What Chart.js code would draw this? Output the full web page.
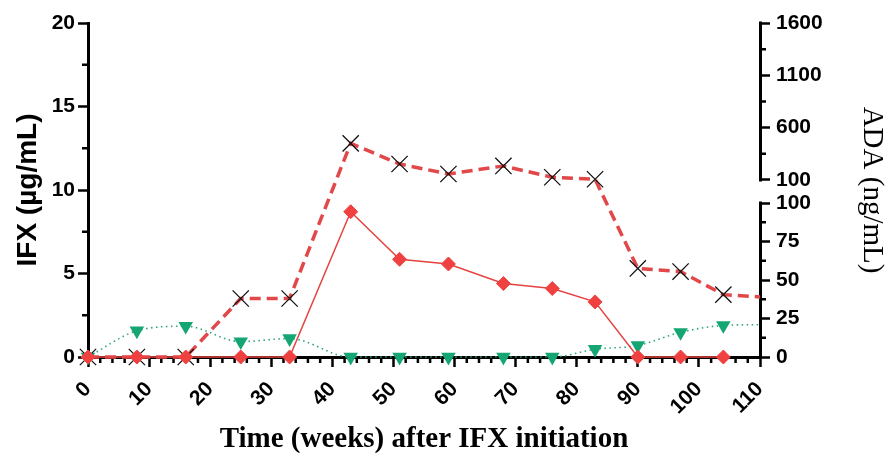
<!DOCTYPE html>
<html>
<head>
<meta charset="utf-8">
<script src="https://cdn.jsdelivr.net/npm/chart.js@4.4.0/dist/chart.umd.min.js"></script>
<style>
  html, body { margin: 0; padding: 0; background: #fff; }
  #wrap { width: 890px; height: 458px; position: relative; }
</style>
</head>
<body>
<div id="wrap"><canvas id="chart"></canvas></div>
<script>
// Weeks after IFX initiation (the last one is where the trailing lines stop)
const weeks = [0, 8, 16, 25, 33, 43, 51, 59, 68, 76, 83, 90, 97, 104, 110];
// IFX, ug/mL (left axis)
const ifxLevels = [0, 0, 0, 0, 0, 8.7, 5.85, 5.57, 4.4, 4.1, 3.3, 0, 0, 0, null];
// ADA, ng/mL (right, broken axis)
const adaLevels = [0, 0, 0, 38, 38, 450, 253, 157, 234, 126, 107, 57.5, 55.5, 40.5, 39];
// green dotted series, ng/mL (right, broken axis)
const greenSeries = [0, 17, 20, 10, 12, 0, 0, 0, 0, 0, 5, 7.5, 16, 20.5, 21];

// tick labels
const leftTicks = [0, 5, 10, 15, 20];
const rightLowerTicks = [0, 25, 50, 75, 100];
const rightUpperTicks = [100, 600, 1100, 1600];
const xTickStep = 10;

// where the right axis breaks (fractions of the plot height)
const BREAK_AT = 100;
const LOWER_TOP = 0.461;
const UPPER_BOTTOM = 0.530;

Chart.defaults.font.family = "'Liberation Sans', Arial, sans-serif";
Chart.defaults.color = '#000';

class BrokenScale extends Chart.LinearScale {
  buildTicks() {
    this.start = this.min;
    this.end = this.max;
    return rightLowerTicks.map(v => ({ value: v }))
      .concat(rightUpperTicks.map(v => ({ value: v, upper: true })));
  }
  toDecimal(v, upper) {
    if (v <= BREAK_AT && !upper) return v / BREAK_AT * LOWER_TOP;
    return UPPER_BOTTOM + (v - BREAK_AT) / (this.max - BREAK_AT) * (1 - UPPER_BOTTOM);
  }
  getPixelForValue(v) {
    return v == null ? NaN : this.getPixelForDecimal(this.toDecimal(v, false));
  }
  getPixelForTick(i) {
    const t = this.ticks[i];
    return t ? this.getPixelForDecimal(this.toDecimal(t.value, t.upper)) : null;
  }
  drawBorder() {
    const ctx = this.ctx;
    const x = this._borderValue;
    ctx.save();
    ctx.lineWidth = 3;
    ctx.strokeStyle = '#000';
    ctx.beginPath();
    ctx.moveTo(x, this.getPixelForDecimal(0) + 1.5);
    ctx.lineTo(x, this.getPixelForDecimal(LOWER_TOP) - 1.5);
    ctx.moveTo(x, this.getPixelForDecimal(UPPER_BOTTOM) + 1.5);
    ctx.lineTo(x, this.getPixelForDecimal(1) - 1.5);
    ctx.stroke();
    ctx.restore();
  }
}
BrokenScale.id = 'broken';
BrokenScale.defaults = Chart.LinearScale.defaults;
Chart.register(BrokenScale);

// short minor ticks between the labelled ones
const minorTicks = {
  id: 'minorTicks',
  beforeDatasetsDraw(chart) {
    const { ctx, scales: { x, y, y2 } } = chart;
    const len = 6;
    ctx.save();
    ctx.strokeStyle = '#000';
    ctx.lineWidth = 2.5;
    ctx.beginPath();
    for (let v = 2; v < 110; v += 2) {
      if (v % xTickStep === 0) continue;
      const px = x.getPixelForValue(v);
      ctx.moveTo(px, x.top);
      ctx.lineTo(px, x.top + len);
    }
    for (let v = 2.5; v < 20; v += 5) {
      const py = y.getPixelForValue(v);
      ctx.moveTo(y.right, py);
      ctx.lineTo(y.right - len, py);
    }
    [12.5, 37.5, 62.5, 87.5, 350, 850, 1350].forEach(v => {
      const py = y2.getPixelForValue(v);
      ctx.moveTo(y2.left, py);
      ctx.lineTo(y2.left + len, py);
    });
    ctx.stroke();
    ctx.restore();
  }
};

const pts = arr => weeks.map((w, i) => ({ x: w, y: arr[i] }));
const lastHidden = r => ctx => (ctx.dataIndex === weeks.length - 1 ? 0 : r);

const tickFont = { size: 21, weight: 'bold' };
const axisGrid = { drawOnChartArea: false, tickLength: 10, tickWidth: 2.5, tickColor: '#000', lineWidth: 3 };

new Chart(document.getElementById('chart'), {
  type: 'line',
  data: {
    datasets: [
      {
        label: 'IFX',
        data: pts(ifxLevels),
        yAxisID: 'y',
        borderColor: '#e4433f',
        borderWidth: 1.5,
        pointStyle: 'rectRot',
        pointRadius: 7,
        pointBackgroundColor: '#ef4140',
        pointBorderColor: '#ef4140',
        pointBorderWidth: 1,
        order: 0,
        clip: false
      },
      {
        label: 'ADA',
        data: pts(adaLevels),
        yAxisID: 'y2',
        borderColor: '#e2474a',
        borderWidth: 3.5,
        borderDash: [11, 6],
        pointStyle: 'crossRot',
        pointRadius: lastHidden(11.5),
        pointBorderColor: '#111',
        pointBackgroundColor: '#111',
        pointBorderWidth: 1.3,
        order: 1,
        clip: false
      },
      {
        label: 'green',
        data: pts(greenSeries),
        yAxisID: 'y2',
        borderColor: '#2fa37c',
        borderWidth: 1.6,
        borderDash: [1.5, 3.5],
        cubicInterpolationMode: 'monotone',
        pointStyle: 'triangle',
        pointRotation: 180,
        pointRadius: lastHidden(6.8),
        pointBackgroundColor: '#16a673',
        pointBorderColor: '#16a673',
        order: 2,
        clip: false
      }
    ]
  },
  options: {
    responsive: true,
    maintainAspectRatio: false,
    animation: false,
    events: [],
    layout: { padding: { top: 23, left: 0, right: 0, bottom: 0 } },
    plugins: { legend: { display: false }, tooltip: { enabled: false } },
    scales: {
      x: {
        type: 'linear',
        position: 'bottom',
        min: 0,
        max: 110,
        ticks: { stepSize: xTickStep, minRotation: 45, maxRotation: 45, font: tickFont, padding: 10, autoSkip: false },
        grid: axisGrid,
        border: { color: '#000', width: 3 },
        title: {
          display: true,
          text: 'Time (weeks) after IFX initiation',
          font: { family: "'Liberation Serif', 'Times New Roman', serif", size: 29, weight: 'bold' },
          padding: { top: 0, bottom: 1 }
        },
        afterFit: s => { s.height = 101; }
      },
      y: {
        type: 'linear',
        position: 'left',
        min: 0,
        max: 20,
        afterBuildTicks: s => { s.ticks = leftTicks.map(v => ({ value: v })); },
        ticks: { font: tickFont, padding: 3, autoSkip: false },
        grid: axisGrid,
        border: { color: '#000', width: 3 },
        title: {
          display: true,
          text: 'IFX (µg/mL)',
          font: { size: 28, weight: 'bold' },
          padding: { top: 11, bottom: 0 }
        },
        afterFit: s => { s.width = 88; }
      },
      y2: {
        type: 'broken',
        position: 'right',
        min: 0,
        max: 1600,
        ticks: { font: tickFont, padding: 6, autoSkip: false, callback: v => String(v) },
        grid: axisGrid,
        border: { color: '#000', width: 3 },
        title: {
          display: true,
          text: 'ADA (ng/mL)',
          font: { family: "'Liberation Serif', 'Times New Roman', serif", size: 29 },
          padding: { top: 1, bottom: 0 }
        },
        afterFit: s => { s.width = 130; }
      }
    }
  },
  plugins: [minorTicks]
});
</script>
</body>
</html>
